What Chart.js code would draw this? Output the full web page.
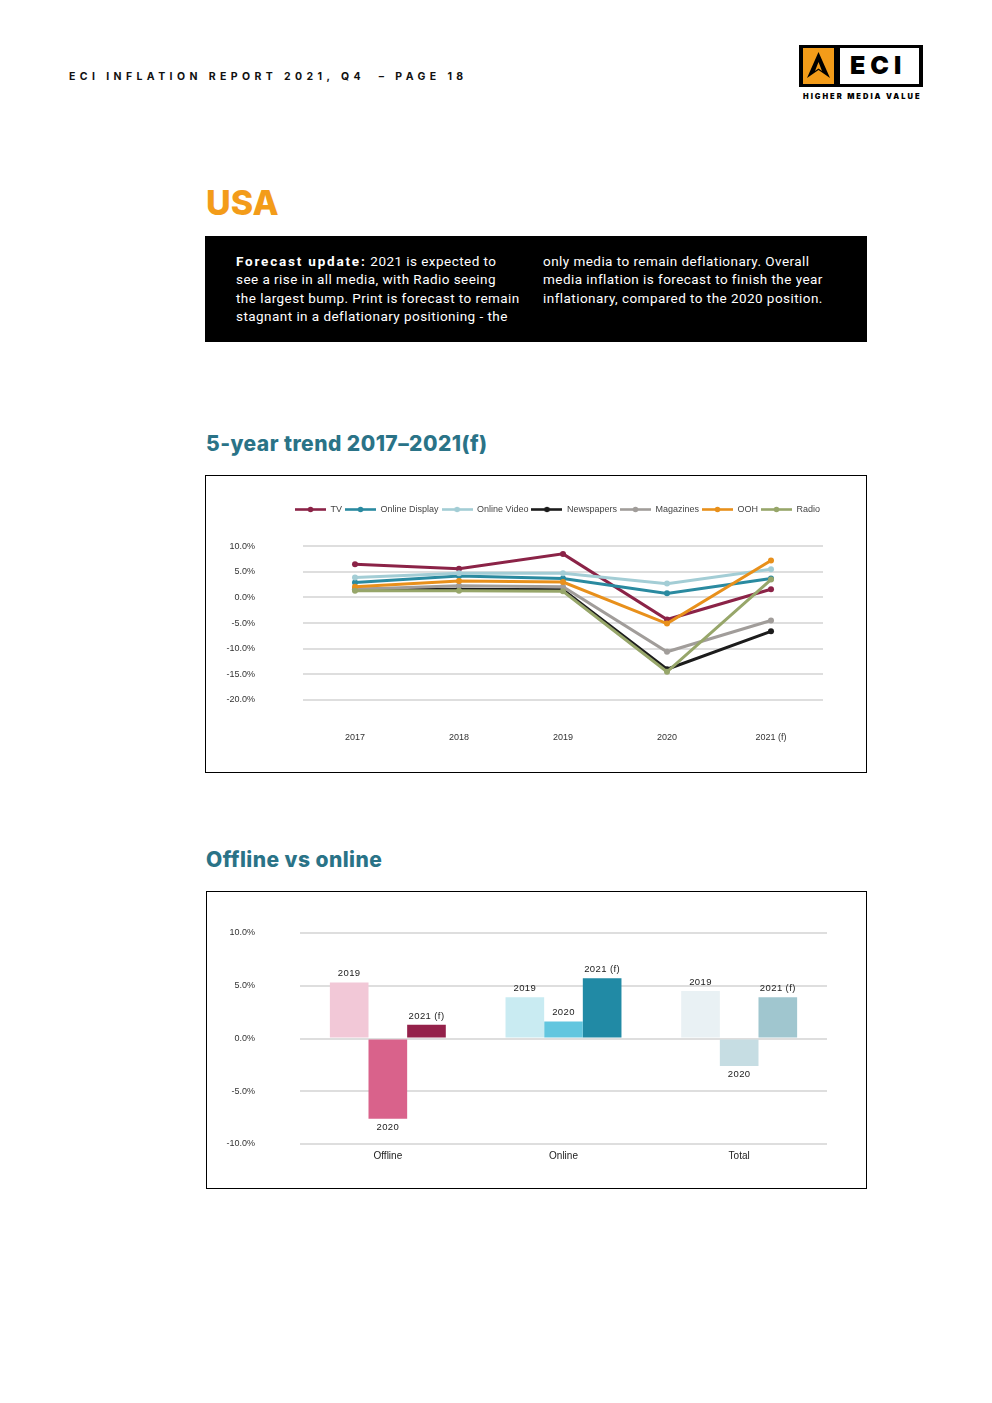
<!DOCTYPE html>
<html>
<head>
<meta charset="utf-8">
<title>ECI Inflation Report 2021 Q4 - USA</title>
<script src="https://cdn.jsdelivr.net/npm/chart.js@4.4.1/dist/chart.umd.min.js"></script>
<style>
  body { margin: 0; background: #fff; }
  .page { position: relative; width: 992px; height: 1403px; overflow: hidden; font-family: "Liberation Sans", Arial, sans-serif; }
  .runhead { position: absolute; left: 69px; top: 71px; font: 700 10.5px/12px Inter, sans-serif; letter-spacing: 4.4px; color: #111; white-space: pre; }
  .logo { position: absolute; left: 799px; top: 45px; width: 124px; height: 42px; background: #000; }
  .logo .sq { position: absolute; left: 4px; top: 3px; width: 31px; height: 36px; background: #f39c19; }
  .logo .wh { position: absolute; left: 41px; top: 3px; width: 79px; height: 36px; background: #fff; }
  .logo .wh span { position: absolute; left: 10px; top: 5px; font: 900 25px/25px Inter, sans-serif; color: #000; letter-spacing: 5px; }
  .tagline { position: absolute; left: 803px; top: 92px; font: 900 7.5px/9px Inter, sans-serif; letter-spacing: 2px; color: #000; white-space: nowrap; }
  .country { position: absolute; left: 206px; top: 186px; font: 800 34px/34px Inter, sans-serif; color: #f39c19; }
  .fbox { position: absolute; left: 205px; top: 236px; width: 662px; height: 106px; background: #000; color: #fff; }
  .fbox .col { position: absolute; top: 16px; font: 400 13.5px/18.4px Roboto, sans-serif; letter-spacing: 0.45px; white-space: nowrap; }
  .fbox b { font-weight: 700; letter-spacing: 1.8px; }
  .h2 { position: absolute; left: 206px; font: 800 21px/21px Inter, sans-serif; color: #2a7387; letter-spacing: 0.45px; }
  .box { position: absolute; box-sizing: border-box; border: 1px solid #000; background: #fff; }
  .box .wrap { position: relative; width: 100%; height: 100%; }
</style>
</head>
<body>
<div class="page">
  <div class="runhead">ECI INFLATION REPORT 2021, Q4  – PAGE 18</div>
  <div class="logo">
    <div class="sq">
      <svg width="31" height="36" viewBox="0 0 31 36">
        <polygon points="15.5,4 27,30 15.5,22 4,30" fill="#000"/>
        <polygon points="15.5,14 19,23 15.5,20.5 12,23" fill="#f39c19"/>
      </svg>
    </div>
    <div class="wh"><span>ECI</span></div>
  </div>
  <div class="tagline">HIGHER MEDIA VALUE</div>

  <div class="country">USA</div>

  <div class="fbox">
    <div class="col" style="left:31px"><b>Forecast update:</b> 2021 is expected to<br>see a rise in all media, with Radio seeing<br>the largest bump. Print is forecast to remain<br>stagnant in a deflationary positioning - the</div>
    <div class="col" style="left:338px">only media to remain deflationary. Overall<br>media inflation is forecast to finish the year<br>inflationary, compared to the 2020 position.</div>
  </div>

  <div class="h2" style="top:433px">5-year trend 2017–2021(f)</div>
  <div class="box" style="left:205px; top:475px; width:662px; height:298px;">
    <div class="wrap"><canvas id="trend-chart"></canvas></div>
  </div>

  <div class="h2" style="top:849px">Offline vs online</div>
  <div class="box" style="left:206px; top:891px; width:661px; height:298px;">
    <div class="wrap"><canvas id="split-chart"></canvas></div>
  </div>
</div>

<script>
// 5-year trend data (% media inflation)
const years = ['2017', '2018', '2019', '2020', '2021 (f)'];
const tv = [6.5, 5.6, 8.5, -4.3, 1.6];
const onlineDisplay = [2.9, 4.2, 3.7, 0.8, 3.7];
const onlineVideo = [3.9, 4.7, 4.7, 2.7, 5.5];
const newspapers = [1.6, 1.6, 1.5, -14.0, -6.6];
const magazines = [1.6, 2.3, 2.1, -10.6, -4.5];
const ooh = [2.1, 3.2, 3.0, -5.1, 7.2];
const radio = [1.3, 1.3, 1.2, -14.5, 3.5];
const trendTicks = [-20, -15, -10, -5, 0, 5, 10];

// Offline vs online data
const groups = ['Offline', 'Online', 'Total'];
const periods = ['2019', '2020', '2021 (f)'];
const y2019 = [5.3, 3.9, 4.5];
const y2020 = [-7.6, 1.6, -2.6];
const y2021 = [1.3, 5.7, 3.9];

const tickColor = '#333';
const gridColor = '#dedede';
const pct = v => v.toFixed(1) + '%';

Chart.defaults.font.family = '"Liberation Sans", Arial, sans-serif';
Chart.defaults.color = tickColor;
Chart.defaults.animation = false;

const series = [
    { label: 'TV', data: tv, color: '#8b2347' },
    { label: 'Online Display', data: onlineDisplay, color: '#2a8aa0' },
    { label: 'Online Video', data: onlineVideo, color: '#a3cdd5' },
    { label: 'Newspapers', data: newspapers, color: '#1c1c1c' },
    { label: 'Magazines', data: magazines, color: '#a19d9a' },
    { label: 'OOH', data: ooh, color: '#e8901b' },
    { label: 'Radio', data: radio, color: '#97a66a' },
];

// little line-with-marker icons for the legend
const legendIcon = color => {
    const c = document.createElement('canvas');
    c.width = 31;
    c.height = 7;
    const g = c.getContext('2d');
    g.strokeStyle = color;
    g.lineWidth = 2.6;
    g.beginPath();
    g.moveTo(0, 3.5);
    g.lineTo(31, 3.5);
    g.stroke();
    g.fillStyle = color;
    g.beginPath();
    g.arc(15.5, 3.5, 2.8, 0, Math.PI * 2);
    g.fill();
    return c;
};
const icons = series.map(s => legendIcon(s.color));

// y axis: fixed width and no extra label padding above/below the plot
const fixY = w => scale => {
    scale.width = w;
    scale.paddingTop = 0;
    scale.paddingBottom = 0;
};

const trendCtx = document.getElementById('trend-chart').getContext('2d');
const trendChart = new Chart(trendCtx, {
    type: 'line',
    data: {
        labels: years,
        datasets: series.map((s, i) => ({
            label: s.label,
            data: s.data,
            borderColor: s.color,
            backgroundColor: s.color,
            pointBackgroundColor: s.color,
            pointBorderColor: s.color,
            borderWidth: 3,
            pointRadius: 3,
            pointBorderWidth: 0,
            tension: 0,
            // later series sit on top, like the original
            order: series.length - i,
        }))
    },
    options: {
        responsive: true,
        maintainAspectRatio: false,
        layout: { padding: { top: 26, right: 43, bottom: 28, left: 0 } },
        plugins: {
            legend: {
                position: 'top',
                align: 'end',
                weight: 3000,
                labels: {
                    usePointStyle: true,
                    pointStyleWidth: 31,
                    padding: 3,
                    color: '#444',
                    font: { size: 9 },
                    sort: (a, b) => a.datasetIndex - b.datasetIndex,
                    generateLabels: chart => {
                        const items = Chart.defaults.plugins.legend.labels.generateLabels(chart);
                        items.forEach(it => { it.pointStyle = icons[it.datasetIndex]; });
                        return items;
                    }
                }
            },
            // empty title used as a spacer between legend and plot
            title: { display: true, text: ' ', font: { size: 1 }, padding: { top: 0, bottom: 21 } },
            tooltip: { enabled: false }
        },
        scales: {
            x: {
                offset: true,
                afterFit: scale => { scale.height = 44; },
                grid: { display: false, drawTicks: false },
                border: { display: false },
                ticks: { padding: 32, font: { size: 9 }, color: tickColor }
            },
            y: {
                min: -20,
                max: 10,
                afterFit: fixY(97),
                afterBuildTicks: scale => { scale.ticks = trendTicks.map(v => ({ value: v })); },
                grid: { color: gridColor, lineWidth: 2, drawTicks: false },
                border: { display: false },
                ticks: { padding: 48, font: { size: 9 }, color: tickColor, callback: v => pct(v) }
            }
        }
    }
});

// period labels printed at the end of each bar
const barLabels = {
    id: 'barLabels',
    afterDatasetsDraw(chart) {
        const ctx = chart.ctx;
        ctx.save();
        ctx.font = '9.5px "Liberation Sans", Arial, sans-serif';
        if ('letterSpacing' in ctx) ctx.letterSpacing = '0.4px';
        ctx.fillStyle = '#222';
        ctx.textAlign = 'center';
        chart.data.datasets.forEach((ds, di) => {
            chart.getDatasetMeta(di).data.forEach((bar, i) => {
                const v = ds.data[i];
                if (v >= 0) {
                    ctx.textBaseline = 'bottom';
                    ctx.fillText(ds.label, bar.x, bar.y - 4);
                } else {
                    ctx.textBaseline = 'top';
                    ctx.fillText(ds.label, bar.x, bar.y + 4);
                }
            });
        });
        ctx.restore();
    }
};

const splitCtx = document.getElementById('split-chart').getContext('2d');
const splitChart = new Chart(splitCtx, {
    type: 'bar',
    data: {
        labels: groups,
        datasets: [
            { label: periods[0], data: y2019, backgroundColor: ['#f2c8d7', '#c9ebf2', '#e9f1f4'] },
            { label: periods[1], data: y2020, backgroundColor: ['#d9628b', '#62c6df', '#c6dde3'] },
            { label: periods[2], data: y2021, backgroundColor: ['#94214a', '#218aa5', '#a0c6cf'] },
        ]
    },
    options: {
        responsive: true,
        maintainAspectRatio: false,
        layout: { padding: { top: 41, right: 39, bottom: 25, left: 0 } },
        datasets: { bar: { barPercentage: 1, categoryPercentage: 0.66 } },
        plugins: {
            legend: { display: false },
            tooltip: { enabled: false }
        },
        scales: {
            x: {
                afterFit: scale => { scale.height = 19; },
                grid: { display: false, drawTicks: false },
                border: { display: false },
                ticks: { padding: 6, font: { size: 10 }, color: '#222' }
            },
            y: {
                min: -10,
                max: 10,
                afterFit: fixY(93),
                grid: { color: gridColor, lineWidth: 2, drawTicks: false },
                border: { display: false },
                ticks: { stepSize: 5, padding: 45, font: { size: 9 }, color: tickColor, callback: v => pct(v) }
            }
        }
    },
    plugins: [barLabels]
});
</script>
</body>
</html>
